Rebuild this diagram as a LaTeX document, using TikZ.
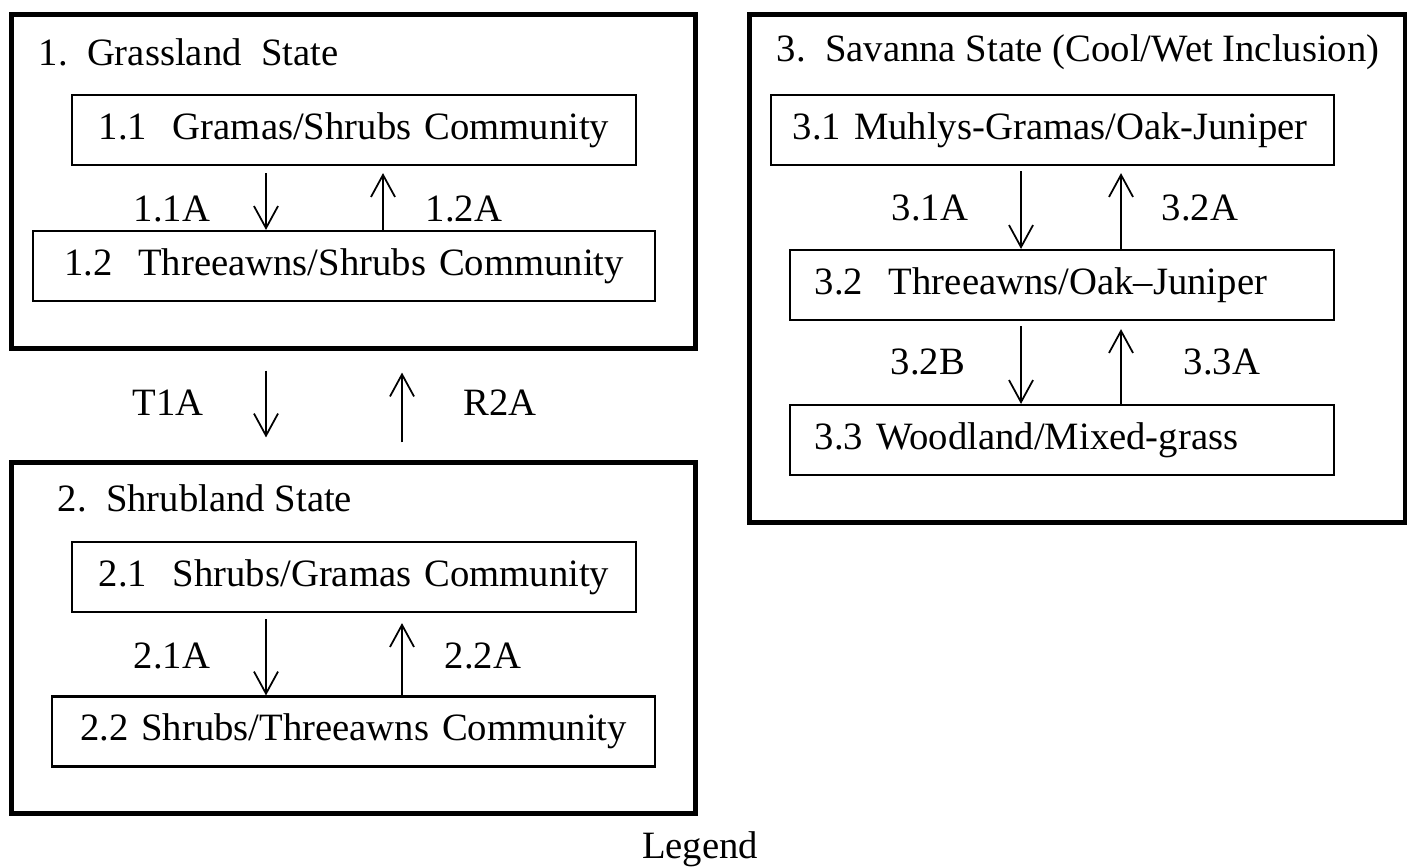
\documentclass[tikz,border=0pt]{standalone}
\usepackage{fontspec}
\setmainfont{Liberation Serif}
\usetikzlibrary{arrows.meta}

\tikzset{
  statebox/.style = {draw, line width=1.4pt, inner sep=0pt},
  commbox/.style = {draw, line width=0.6pt, inner sep=0pt, minimum height=0.70cm},
  trans/.style = {line width=0.5pt, -{Straight Barb[length=2.2mm,width=2.4mm]}},
  lbl/.style = {inner sep=0pt}
}

\begin{document}
\begin{tikzpicture}[x=0.01cm, y=-0.01cm, font=\fontsize{11}{13}\selectfont]
\useasboundingbox (0,0) rectangle (1407,866);

% state boxes
\node[statebox, minimum width=6.83cm, minimum height=3.33cm] (s1) at (353.5,181.5) {};
\node[statebox, minimum width=6.83cm, minimum height=3.50cm] (s2) at (353.5,638) {};
\node[statebox, minimum width=6.55cm, minimum height=5.07cm] (s3) at (1077.5,268.5) {};

\node[lbl, anchor=west] (t1) at (38,52) {1.~~Grassland~~State};
\node[lbl, anchor=west] (t2) at (57,498) {2.~~Shrubland State};
\node[lbl, anchor=west] (t3) at (776,52) {3.~~Savanna State (Cool/Wet Inclusion)};

% community boxes
\node[commbox, text width=5.64cm, align=center] (c11) at (354,130) {1.1~~Gramas/Shrubs~Community};
\node[commbox, text width=6.22cm, align=center] (c12) at (344,266) {1.2~~Threeawns/Shrubs~Community};
\node[commbox, text width=5.64cm, align=center] (c21) at (354,577) {2.1~~Shrubs/Gramas~Community};
\node[commbox, text width=6.03cm, align=center] (c22) at (353.5,731.5) {2.2 Shrubs/Threeawns~Community};

\node[commbox, inner xsep=0.22cm, text width=5.19cm, align=left] (c31) at (1052.5,130) {\mbox{3.1 Muhlys-Gramas/Oak-Juniper}};
\node[commbox, inner xsep=0.25cm, text width=4.94cm, align=left] (c32) at (1062,285) {3.2~~Threeawns/Oak--Juniper};
\node[commbox, inner xsep=0.25cm, text width=4.94cm, align=left] (c33) at (1062,440) {3.3 Woodland/Mixed-grass};

% arrow columns
\coordinate (a1d) at (266,0);
\coordinate (a1u) at (383,0);
\coordinate (a2u) at (402,0);
\coordinate (a3d) at (1021,0);
\coordinate (a3u) at (1121,0);

\draw[trans, shorten <=0.07cm] (c11.south -| a1d) -- (c12.north -| a1d);
\draw[trans, shorten >=0.07cm] (c12.north -| a1u) -- (c11.south -| a1u);
\node[lbl] (l11) at (172,209) {1.1A};
\node[lbl] (l12) at (464,209) {1.2A};

\draw[trans, shorten <=0.20cm, shorten >=0.23cm] (s1.south -| a1d) -- (s2.north -| a1d);
\draw[trans, shorten <=0.18cm, shorten >=0.22cm] (s2.north -| a2u) -- (s1.south -| a2u);
\node[lbl] (lt) at (168,403) {T1A};
\node[lbl] (lr) at (500,403) {R2A};

\draw[trans, shorten <=0.06cm] (c21.south -| a1d) -- (c22.north -| a1d);
\draw[trans, shorten >=0.10cm] (c22.north -| a2u) -- (c21.south -| a2u);
\node[lbl] (l21) at (172,656) {2.1A};
\node[lbl] (l22) at (483,656) {2.2A};

\draw[trans, shorten <=0.05cm] (c31.south -| a3d) -- (c32.north -| a3d);
\draw[trans, shorten >=0.07cm] (c32.north -| a3u) -- (c31.south -| a3u);
\node[lbl] (l31) at (930,208) {3.1A};
\node[lbl] (l32) at (1200,208) {3.2A};

\draw[trans, shorten <=0.05cm] (c32.south -| a3d) -- (c33.north -| a3d);
\draw[trans, shorten >=0.08cm] (c33.north -| a3u) -- (c32.south -| a3u);
\node[lbl] (l3b) at (928,362) {3.2B};
\node[lbl] (l33) at (1222,362) {3.3A};

\node[lbl] (leg) at (700,849) {Legend};

\end{tikzpicture}
\end{document}
